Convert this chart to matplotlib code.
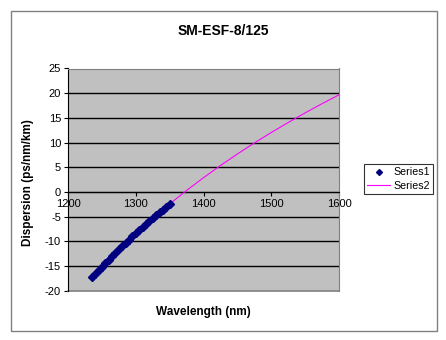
import matplotlib
matplotlib.use("Agg")
import matplotlib.pyplot as plt
from matplotlib.patches import Rectangle

plt.rcParams['font.family'] = ['Liberation Sans', 'DejaVu Sans']
plt.rcParams['axes.unicode_minus'] = False

# Series1: measured points (nm, ps/nm/km)
s1_wl = [1235, 1240, 1245, 1250, 1255, 1260, 1265, 1270, 1275, 1280, 1285, 1290,
         1295, 1300, 1305, 1310, 1315, 1320, 1325, 1330, 1335, 1340, 1345, 1350]
s1_disp = [-17.3, -16.6, -15.8, -15.1, -14.4, -13.7, -13.0, -12.3, -11.6, -11.0, -10.3, -9.66,
           -9.02, -8.38, -7.75, -7.13, -6.52, -5.91, -5.31, -4.72, -4.14, -3.56, -2.99, -2.42]

# Series2: extension curve
s2_wl = [1350, 1375, 1400, 1425, 1450, 1475, 1500, 1525, 1550, 1575, 1600]
s2_disp = [-2.42, 0.32, 2.91, 5.37, 7.71, 9.94, 12.06, 14.09, 16.04, 17.90, 19.70]

x_ticks = [1200, 1300, 1400, 1500, 1600]
y_ticks = [-20, -15, -10, -5, 0, 5, 10, 15, 20, 25]

W, H = 446, 340
fig = plt.figure(figsize=(W / 100, H / 100), dpi=100)
fig.patch.set_facecolor('white')

# outer chart border
fig.patches.append(Rectangle((11 / W, 1 - 331 / H), 426 / W, 320 / H,
                             transform=fig.transFigure, fill=False,
                             edgecolor='#808080', lw=1))

ax = fig.add_axes([68 / W, 1 - 290.7 / H, (339.3 - 68) / W, (290.7 - 68.5) / H])
ax.set_facecolor('#C0C0C0')
ax.set_xlim(1200, 1600)
ax.set_ylim(-20, 25)

for y in y_ticks[1:-1]:
    ax.axhline(y, color='black', lw=1, zorder=1)

ax.plot(s2_wl, s2_disp, color='#FF00FF', lw=0.8, label='Series2', zorder=3)
# dense markers form a thick band
ax.plot(s1_wl, s1_disp, linestyle='-', lw=3.2, color='#000080', zorder=4,
        solid_capstyle='butt')
ax.plot(s1_wl, s1_disp, linestyle='none', marker='D', markersize=3.6,
        color='#000080', markeredgecolor='#000080', label='Series1', zorder=5)

ax.spines['bottom'].set_position(('data', 0))
ax.spines['bottom'].set_color('black')
ax.spines['left'].set_color('black')
ax.spines['top'].set_color('#808080')
ax.spines['right'].set_color('#808080')
ax.axhline(-20, color='#808080', lw=1.2, zorder=2, clip_on=False)

ax.set_xticks(x_ticks)
ax.set_yticks(y_ticks)
ax.tick_params(axis='both', labelsize=8, direction='out', length=3, width=0.8,
               colors='black', pad=2)

fig.text(223 / W, 1 - 31 / H, 'SM-ESF-8/125', ha='center', va='center',
         fontsize=10, fontweight='bold')
fig.text(203 / W, 1 - 312 / H, 'Wavelength (nm)', ha='center', va='center',
         fontsize=8.5, fontweight='bold')
fig.text(28 / W, 1 - 183 / H, 'Dispersion (ps/nm/km)', ha='center', va='center',
         fontsize=8.5, fontweight='bold', rotation=90)

handles, labels = ax.get_legend_handles_labels()
order = [labels.index('Series1'), labels.index('Series2')]
leg = ax.legend([handles[i] for i in order], [labels[i] for i in order],
                loc='center', bbox_to_anchor=(398.5 / W, 1 - 179 / H),
                bbox_transform=fig.transFigure, fontsize=7.7, frameon=True,
                fancybox=False, edgecolor='black', handlelength=2.2,
                borderpad=0.3, labelspacing=0.3, handletextpad=0.3,
                borderaxespad=0)
leg.get_frame().set_linewidth(0.8)
leg.legend_handles[0].set_markersize(3)

fig.savefig('out.png', dpi=100)
